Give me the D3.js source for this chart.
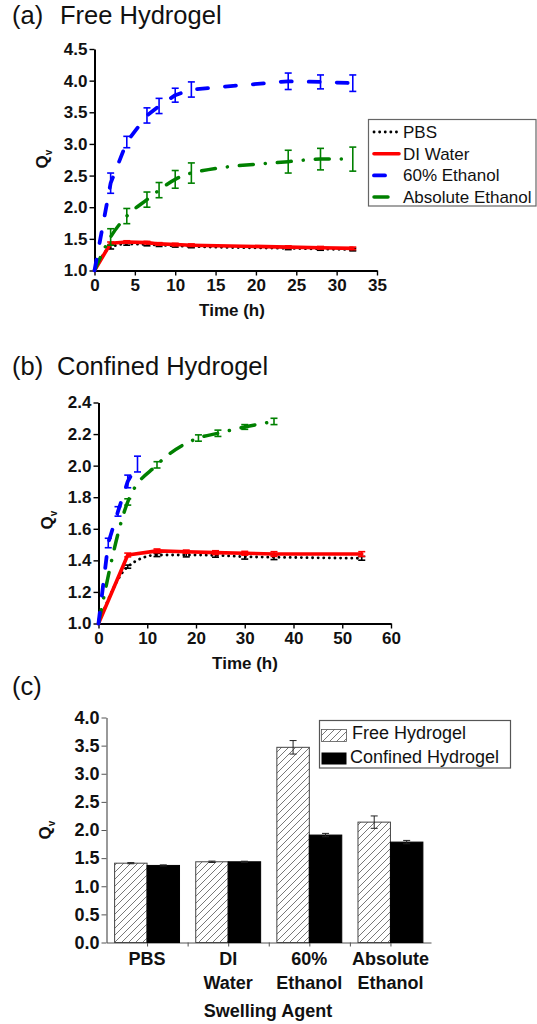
<!DOCTYPE html>
<html>
<head>
<meta charset="utf-8">
<script src="https://cdn.jsdelivr.net/npm/d3@7"></script>
<style>
  body { margin: 0; background: #fff; }
  svg { display: block; font-family: "Liberation Sans", Arial, Helvetica, sans-serif; }
</style>
</head>
<body>
<svg id="fig" width="537" height="1024"></svg>
<script>
// ---------- data ----------
// (a) free hydrogel, swelling ratio vs time
const timeFree = [0, 2, 4, 6.5, 8, 10, 12, 24, 28, 32];
const freePBS = [1.00, 1.37, 1.42, 1.41, 1.40, 1.39, 1.38, 1.35, 1.34, 1.33];
const freePBSErr = [0, 0.03, 0.02, 0.02, 0.02, 0.02, 0.02, 0.02, 0.02, 0.02];
const freeDI = [1.00, 1.43, 1.45, 1.44, 1.42, 1.41, 1.40, 1.37, 1.36, 1.35];
const freeDIErr = [0, 0.02, 0.02, 0.02, 0.02, 0.02, 0.02, 0.02, 0.02, 0.02];
const freeEth60 = [1.00, 2.38, 3.03, 3.45, 3.60, 3.77, 3.86, 3.99, 3.98, 3.96];
const freeEth60Err = [0, 0.16, 0.09, 0.12, 0.12, 0.11, 0.12, 0.13, 0.11, 0.13];
const freeEthAbs = [1.00, 1.53, 1.86, 2.12, 2.27, 2.44, 2.54, 2.72, 2.76, 2.76];
const freeEthAbsErr = [0, 0.13, 0.12, 0.12, 0.12, 0.14, 0.16, 0.18, 0.17, 0.19];

// (b) confined hydrogel, swelling ratio vs time
const timeConfAq = [0, 6, 12, 18, 24, 30, 36, 54];
const confPBS = [1.00, 1.36, 1.434, 1.434, 1.432, 1.423, 1.42, 1.413];
const confPBSErr = [0, 0.01, 0.01, 0.012, 0.012, 0.015, 0.015, 0.012];
const confDI = [1.00, 1.434, 1.46, 1.455, 1.449, 1.445, 1.44, 1.44];
const confDIErr = [0, 0.012, 0.012, 0.01, 0.012, 0.012, 0.015, 0.015];
const timeConfEth60 = [0, 2, 4, 6, 8];
const confEth60 = [1.00, 1.51, 1.71, 1.90, 2.01];
const confEth60Err = [0, 0.03, 0.03, 0.04, 0.05];
const timeConfEthAbs = [0, 6, 12, 20.5, 24.5, 30, 36];
const confEthAbs = [1.00, 1.77, 2.005, 2.175, 2.205, 2.245, 2.28];
const confEthAbsErr = [0, 0.02, 0.02, 0.02, 0.02, 0.015, 0.02];

// (c) equilibrium swelling by agent
const agents = ["PBS", "DI Water", "60% Ethanol", "Absolute Ethanol"];
const agentLabelLines = [["PBS"], ["DI", "Water"], ["60%", "Ethanol"], ["Absolute", "Ethanol"]];
const eqFree = [1.41, 1.435, 3.47, 2.14];
const eqFreeErr = [0.01, 0.012, 0.12, 0.11];
const eqConfined = [1.37, 1.435, 1.91, 1.785];
const eqConfinedErr = [0.01, 0.01, 0.03, 0.03];
const barSeriesNames = ["Free Hydrogel", "Confined Hydrogel"];

// axis ticks
const ticksAy = [1.0, 1.5, 2.0, 2.5, 3.0, 3.5, 4.0, 4.5];
const ticksAx = [0, 5, 10, 15, 20, 25, 30, 35];
const ticksBy = [1.0, 1.2, 1.4, 1.6, 1.8, 2.0, 2.2, 2.4];
const ticksBx = [0, 10, 20, 30, 40, 50, 60];
const ticksCy = [0.0, 0.5, 1.0, 1.5, 2.0, 2.5, 3.0, 3.5, 4.0];

// ---------- styles ----------
const seriesNames = ["PBS", "DI Water", "60% Ethanol", "Absolute Ethanol"];
const seriesStyle = {
  "PBS":              { color: "#000000", width: 2.8, dash: "0.1,5.5", curve: d3.curveMonotoneX },
  "DI Water":         { color: "#ff0000", width: 3.6, dash: null, curve: d3.curveLinear },
  "60% Ethanol":      { color: "#0000ff", width: 3.8, dash: "11,17", curve: d3.curveLinear },
  "Absolute Ethanol": { color: "#008000", width: 3.5, dash: "14,12,0.1,12", curve: d3.curveMonotoneX }
};

const svg = d3.select("#fig");
const bold = "bold";

function title(y, tag, name, nameX) {
  const t = svg.append("text").attr("y", y).attr("font-size", 25.5).attr("fill", "#111");
  t.append("tspan").attr("x", 12).text(tag);
  t.append("tspan").attr("x", nameX).text(name);
}

function qvLabel(x, y) {
  const t = svg.append("text")
    .attr("transform", `translate(${x},${y}) rotate(-90)`)
    .attr("text-anchor", "middle")
    .attr("font-weight", bold).attr("font-size", 17).attr("fill", "#111");
  t.append("tspan").text("Q");
  t.append("tspan").attr("font-size", 10).attr("dy", 4).text("v");
}

function axisTitle(x, y, txt) {
  svg.append("text").attr("x", x).attr("y", y).attr("text-anchor", "middle")
    .attr("font-weight", bold).attr("font-size", 17).attr("fill", "#111").text(txt);
}

function styleAxis(g, strokeW, color) {
  g.select(".domain").attr("stroke", color).attr("stroke-width", strokeW);
  g.selectAll(".tick line").attr("stroke", color).attr("stroke-width", Math.max(1.2, strokeW * 0.7));
  g.selectAll(".tick text").attr("font-family", "Liberation Sans, Arial, sans-serif")
    .attr("font-weight", bold).attr("font-size", 17).attr("fill", "#111");
}

function minorValues(major) {
  const out = [];
  for (let i = 0; i < major.length - 1; i++) out.push((major[i] + major[i + 1]) / 2);
  return out;
}

function drawAxes(x, y, xTicks, yTicks, yFmt, strokeW, color) {
  const [x0] = x.range();
  const [y0] = y.range();
  const gx = svg.append("g").attr("transform", `translate(0,${y0})`);
  gx.call(d3.axisBottom(x).tickValues(minorValues(xTicks)).tickSize(3).tickSizeOuter(0).tickFormat(""));
  gx.call(d3.axisBottom(x).tickValues(xTicks).tickSize(5).tickPadding(3).tickSizeOuter(0).tickFormat(d3.format("d")));
  styleAxis(gx, strokeW, color);
  const gy = svg.append("g").attr("transform", `translate(${x0},0)`);
  gy.call(d3.axisLeft(y).tickValues(minorValues(yTicks)).tickSize(3).tickSizeOuter(0).tickFormat(""));
  gy.call(d3.axisLeft(y).tickValues(yTicks).tickSize(5).tickPadding(2).tickSizeOuter(0).tickFormat(yFmt));
  styleAxis(gy, strokeW, color);
}

function drawSeries(x, y, name, times, vals, errs) {
  const st = seriesStyle[name];
  const pts = times.map((t, i) => ({ t, v: vals[i], e: errs[i] }));
  const line = d3.line().x(d => x(d.t)).y(d => y(d.v)).curve(st.curve);
  svg.append("path").attr("d", line(pts)).attr("fill", "none")
    .attr("stroke", st.color).attr("stroke-width", st.width)
    .attr("stroke-linecap", "round").attr("stroke-linejoin", "round")
    .attr("stroke-dasharray", st.dash);
  const eb = svg.append("g").attr("stroke", st.color).attr("stroke-width", 1.6).attr("fill", "none");
  pts.filter(d => d.e > 0).forEach(d => {
    const cx = x(d.t), yt = y(d.v + d.e), yb = y(d.v - d.e);
    eb.append("line").attr("x1", cx).attr("x2", cx).attr("y1", yt).attr("y2", yb);
    eb.append("line").attr("x1", cx - 3.5).attr("x2", cx + 3.5).attr("y1", yt).attr("y2", yt);
    eb.append("line").attr("x1", cx - 3.5).attr("x2", cx + 3.5).attr("y1", yb).attr("y2", yb);
  });
}

// ---------- (a) Free Hydrogel ----------
title(24, "(a)", "Free Hydrogel", 60);
const xA = d3.scaleLinear().domain([0, 35]).range([94.5, 377]);
const yA = d3.scaleLinear().domain([1.0, 4.5]).range([270.5, 49]);
drawAxes(xA, yA, ticksAx, ticksAy, d3.format(".1f"), 2, "#000");
drawSeries(xA, yA, "PBS", timeFree, freePBS, freePBSErr);
drawSeries(xA, yA, "DI Water", timeFree, freeDI, freeDIErr);
drawSeries(xA, yA, "Absolute Ethanol", timeFree, freeEthAbs, freeEthAbsErr);
drawSeries(xA, yA, "60% Ethanol", timeFree, freeEth60, freeEth60Err);
qvLabel(48, 159);
axisTitle(232, 316, "Time (h)");

// legend (a)
const legA = svg.append("g");
legA.append("rect").attr("x", 368.5).attr("y", 119.5).attr("width", 167.5).attr("height", 86.5)
  .attr("fill", "#fff").attr("stroke", "#666").attr("stroke-width", 1.2);
seriesNames.forEach((name, i) => {
  const st = seriesStyle[name];
  const yy = 132 + i * 21.7;
  legA.append("line").attr("x1", 374).attr("x2", 399).attr("y1", yy).attr("y2", yy)
    .attr("stroke", st.color).attr("stroke-width", st.width)
    .attr("stroke-linecap", "round").attr("stroke-dasharray", st.dash);
  legA.append("text").attr("x", 403).attr("y", yy + 6).attr("font-size", 17).attr("fill", "#111").text(name);
});

// ---------- (b) Confined Hydrogel ----------
title(375, "(b)", "Confined Hydrogel", 57);
const xB = d3.scaleLinear().domain([0, 60]).range([98.5, 391]);
const yB = d3.scaleLinear().domain([1.0, 2.4]).range([623.5, 402.5]);
drawAxes(xB, yB, ticksBx, ticksBy, d3.format(".1f"), 2, "#000");
drawSeries(xB, yB, "PBS", timeConfAq, confPBS, confPBSErr);
drawSeries(xB, yB, "DI Water", timeConfAq, confDI, confDIErr);
drawSeries(xB, yB, "Absolute Ethanol", timeConfEthAbs, confEthAbs, confEthAbsErr);
drawSeries(xB, yB, "60% Ethanol", timeConfEth60, confEth60, confEth60Err);
qvLabel(53, 520);
axisTitle(245, 669, "Time (h)");

// ---------- (c) bar chart ----------
title(695, "(c)", "", 60);
const defs = svg.append("defs");
const pat = defs.append("pattern").attr("id", "hatch").attr("patternUnits", "userSpaceOnUse")
  .attr("width", 7).attr("height", 7);
pat.append("rect").attr("width", 7).attr("height", 7).attr("fill", "#fff");
pat.append("path").attr("d", "M-1,1 L1,-1 M0,7 L7,0 M6,8 L8,6")
  .attr("stroke", "#555").attr("stroke-width", 0.8);

const xC = d3.scaleLinear().domain([0.5, 4.5]).range([106.5, 431]);
const yC = d3.scaleLinear().domain([0, 4]).range([942.5, 717.5]);
const barW = xC(1.4) - xC(1);

// category axis
const gxC = svg.append("g").attr("transform", `translate(0,${yC(0)})`);
gxC.call(d3.axisBottom(xC).tickValues([1, 1.5, 2, 2.5, 3, 3.5, 4]).tickSize(4).tickSizeOuter(0).tickFormat(""));
gxC.select(".domain").attr("stroke", "#555").attr("stroke-width", 1.2);
gxC.selectAll(".tick line").attr("stroke", "#555").attr("stroke-width", 1);
const gyC = svg.append("g").attr("transform", `translate(${xC.range()[0]},0)`);
gyC.call(d3.axisLeft(yC).tickValues(minorValues(ticksCy)).tickSize(3).tickSizeOuter(0).tickFormat(""));
gyC.call(d3.axisLeft(yC).tickValues(ticksCy).tickSize(5).tickPadding(2).tickSizeOuter(0).tickFormat(d3.format(".1f")));
gyC.select(".domain").attr("stroke", "#555").attr("stroke-width", 1.2);
gyC.selectAll(".tick line").attr("stroke", "#555").attr("stroke-width", 1);
gyC.selectAll(".tick text").attr("font-weight", bold).attr("font-size", 18).attr("fill", "#111");

const bars = svg.append("g");
agents.forEach((a, i) => {
  const c = i + 1;
  bars.append("rect").attr("x", xC(c) - barW).attr("y", yC(eqFree[i]))
    .attr("width", barW).attr("height", yC(0) - yC(eqFree[i]))
    .attr("fill", "url(#hatch)").attr("stroke", "#444").attr("stroke-width", 1);
  bars.append("rect").attr("x", xC(c)).attr("y", yC(eqConfined[i]))
    .attr("width", barW).attr("height", yC(0) - yC(eqConfined[i]))
    .attr("fill", "#000").attr("stroke", "#000").attr("stroke-width", 1);
  [[xC(c) - barW / 2, eqFree[i], eqFreeErr[i]], [xC(c) + barW / 2, eqConfined[i], eqConfinedErr[i]]]
    .forEach(([cx, v, e]) => {
      const g = bars.append("g").attr("stroke", "#222").attr("stroke-width", 1);
      g.append("line").attr("x1", cx).attr("x2", cx).attr("y1", yC(v + e)).attr("y2", yC(v - e));
      g.append("line").attr("x1", cx - 3.5).attr("x2", cx + 3.5).attr("y1", yC(v + e)).attr("y2", yC(v + e));
      g.append("line").attr("x1", cx - 3.5).attr("x2", cx + 3.5).attr("y1", yC(v - e)).attr("y2", yC(v - e));
    });
  agentLabelLines[i].forEach((ln, j) => {
    svg.append("text").attr("x", xC(c)).attr("y", 965 + j * 23.6).attr("text-anchor", "middle")
      .attr("font-weight", bold).attr("font-size", 18).attr("fill", "#111").text(ln);
  });
});
qvLabel(51, 830);
svg.append("text").attr("x", 268).attr("y", 1017).attr("text-anchor", "middle")
  .attr("font-weight", bold).attr("font-size", 18).attr("fill", "#111").text("Swelling Agent");

// legend (c)
const legC = svg.append("g");
legC.append("rect").attr("x", 319.5).attr("y", 720.5).attr("width", 191).attr("height", 47.5)
  .attr("fill", "#fff").attr("stroke", "#555").attr("stroke-width", 1.2);
legC.append("rect").attr("x", 321.5).attr("y", 729.5).attr("width", 25).attr("height", 12)
  .attr("fill", "url(#hatch)").attr("stroke", "#555").attr("stroke-width", 0.8);
legC.append("rect").attr("x", 321.5).attr("y", 752.5).attr("width", 25).attr("height", 12)
  .attr("fill", "#000");
legC.append("text").attr("x", 352).attr("y", 739).attr("font-size", 18).attr("fill", "#111").text(barSeriesNames[0]);
legC.append("text").attr("x", 350).attr("y", 762.5).attr("font-size", 18).attr("fill", "#111").text(barSeriesNames[1]);
</script>
</body>
</html>
